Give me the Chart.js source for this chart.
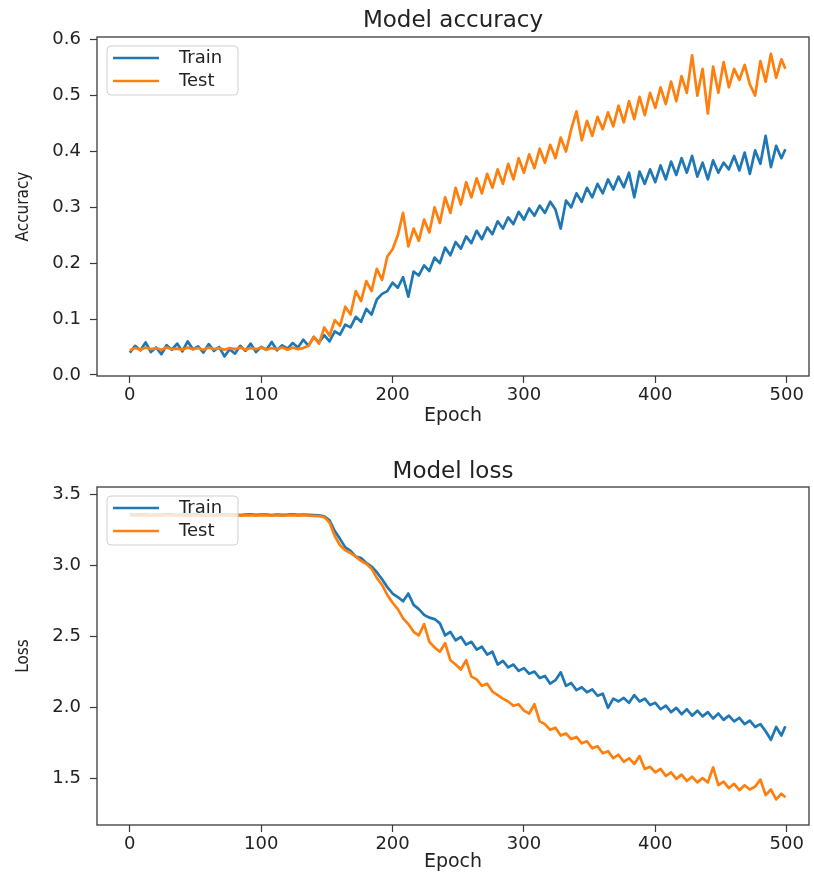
<!DOCTYPE html>
<html>
<head>
<meta charset="utf-8">
<title>Model accuracy / Model loss</title>
<script src="https://cdn.jsdelivr.net/npm/chart.js@4.4.1/dist/chart.umd.min.js"></script>
<style>
  body { margin: 0; background: #ffffff; }
  .plot { position: absolute; left: 0; }
</style>
</head>
<body>
<canvas id="accChart" class="plot" width="814" height="440" style="top:0px"></canvas>
<canvas id="lossChart" class="plot" width="814" height="437" style="top:440px"></canvas>
<script>
const epochs = [
  0, 4, 8, 12, 16, 20, 24, 28, 32, 36,
  40, 44, 48, 52, 56, 60, 64, 68, 72, 76,
  80, 84, 88, 92, 96, 100, 104, 108, 112, 116,
  120, 124, 128, 132, 136, 140, 144, 148, 152, 156,
  160, 164, 168, 172, 176, 180, 184, 188, 192, 196,
  200, 204, 208, 212, 216, 220, 224, 228, 232, 236,
  240, 244, 248, 252, 256, 260, 264, 268, 272, 276,
  280, 284, 288, 292, 296, 300, 304, 308, 312, 316,
  320, 324, 328, 332, 336, 340, 344, 348, 352, 356,
  360, 364, 368, 372, 376, 380, 384, 388, 392, 396,
  400, 404, 408, 412, 416, 420, 424, 428, 432, 436,
  440, 444, 448, 452, 456, 460, 464, 468, 472, 476,
  480, 484, 488, 492, 496, 499
];

const accTrain = [
  0.040, 0.052, 0.044, 0.058, 0.041, 0.049, 0.037, 0.053, 0.045, 0.056,
  0.042, 0.060, 0.046, 0.051, 0.040, 0.055, 0.043, 0.050, 0.033, 0.046,
  0.038, 0.052, 0.043, 0.056, 0.041, 0.050, 0.045, 0.059, 0.044, 0.053,
  0.047, 0.057, 0.049, 0.063, 0.052, 0.068, 0.058, 0.071, 0.060, 0.078,
  0.072, 0.090, 0.085, 0.104, 0.095, 0.118, 0.108, 0.135, 0.145, 0.150,
  0.165, 0.156, 0.175, 0.140, 0.185, 0.178, 0.196, 0.186, 0.210, 0.200,
  0.228, 0.214, 0.238, 0.226, 0.248, 0.236, 0.258, 0.243, 0.264, 0.252,
  0.275, 0.262, 0.282, 0.270, 0.292, 0.278, 0.298, 0.285, 0.303, 0.290,
  0.310, 0.296, 0.262, 0.312, 0.300, 0.325, 0.310, 0.335, 0.318, 0.342,
  0.325, 0.350, 0.332, 0.355, 0.336, 0.362, 0.318, 0.364, 0.342, 0.368,
  0.345, 0.375, 0.350, 0.382, 0.358, 0.388, 0.362, 0.392, 0.355, 0.380,
  0.350, 0.384, 0.362, 0.380, 0.368, 0.392, 0.366, 0.398, 0.360, 0.402,
  0.378, 0.428, 0.372, 0.410, 0.388, 0.404
];

const accTest = [
  0.044, 0.048, 0.045, 0.049, 0.046, 0.048, 0.045, 0.049, 0.046, 0.047,
  0.045, 0.049, 0.046, 0.048, 0.045, 0.049, 0.046, 0.048, 0.045, 0.048,
  0.046, 0.049, 0.045, 0.048, 0.046, 0.049, 0.045, 0.048, 0.046, 0.049,
  0.045, 0.049, 0.046, 0.048, 0.052, 0.068, 0.056, 0.085, 0.070, 0.098,
  0.088, 0.122, 0.108, 0.150, 0.132, 0.168, 0.150, 0.190, 0.170, 0.212,
  0.225, 0.250, 0.290, 0.230, 0.262, 0.240, 0.278, 0.255, 0.300, 0.272,
  0.318, 0.290, 0.335, 0.305, 0.345, 0.318, 0.352, 0.325, 0.360, 0.335,
  0.368, 0.342, 0.378, 0.350, 0.388, 0.362, 0.395, 0.370, 0.405, 0.380,
  0.412, 0.388, 0.425, 0.400, 0.440, 0.472, 0.420, 0.455, 0.428, 0.462,
  0.440, 0.470, 0.445, 0.482, 0.452, 0.490, 0.458, 0.498, 0.465, 0.505,
  0.478, 0.515, 0.485, 0.525, 0.490, 0.535, 0.505, 0.572, 0.500, 0.548,
  0.468, 0.552, 0.505, 0.560, 0.515, 0.548, 0.528, 0.555, 0.520, 0.500,
  0.562, 0.525, 0.575, 0.532, 0.565, 0.548
];

const lossTrain = [
  3.358, 3.354, 3.357, 3.355, 3.353, 3.356, 3.354, 3.357, 3.355, 3.353,
  3.356, 3.354, 3.357, 3.355, 3.354, 3.356, 3.353, 3.355, 3.357, 3.354,
  3.356, 3.353, 3.355, 3.357, 3.354, 3.356, 3.355, 3.353, 3.356, 3.354,
  3.355, 3.357, 3.354, 3.356, 3.354, 3.352, 3.350, 3.344, 3.315, 3.240,
  3.185, 3.125, 3.100, 3.060, 3.050, 3.015, 2.990, 2.950, 2.900, 2.845,
  2.800, 2.775, 2.745, 2.800, 2.720, 2.690, 2.650, 2.630, 2.620, 2.590,
  2.505, 2.530, 2.470, 2.495, 2.440, 2.460, 2.405, 2.425, 2.370, 2.390,
  2.300, 2.325, 2.280, 2.300, 2.255, 2.275, 2.235, 2.250, 2.205, 2.220,
  2.165, 2.190, 2.245, 2.150, 2.170, 2.120, 2.140, 2.105, 2.125, 2.080,
  2.095, 1.995, 2.060, 2.040, 2.065, 2.030, 2.085, 2.040, 2.060, 2.015,
  2.030, 1.985, 2.010, 1.965, 1.995, 1.950, 1.985, 1.940, 1.975, 1.935,
  1.965, 1.920, 1.955, 1.910, 1.940, 1.900, 1.925, 1.880, 1.905, 1.860,
  1.880, 1.830, 1.770, 1.860, 1.800, 1.865
];

const lossTest = [
  3.351, 3.349, 3.352, 3.350, 3.348, 3.351, 3.349, 3.352, 3.350, 3.348,
  3.351, 3.349, 3.352, 3.350, 3.349, 3.351, 3.348, 3.350, 3.352, 3.349,
  3.351, 3.348, 3.350, 3.352, 3.349, 3.351, 3.350, 3.348, 3.351, 3.349,
  3.350, 3.352, 3.349, 3.351, 3.349, 3.347, 3.345, 3.338, 3.300, 3.205,
  3.140, 3.105, 3.085, 3.060, 3.030, 3.010, 2.975, 2.910, 2.860, 2.790,
  2.735, 2.690, 2.625, 2.585, 2.530, 2.505, 2.585, 2.460, 2.420, 2.390,
  2.450, 2.330, 2.300, 2.265, 2.330, 2.215, 2.195, 2.150, 2.165, 2.110,
  2.085, 2.060, 2.040, 2.010, 2.020, 1.975, 1.955, 2.020, 1.900, 1.880,
  1.840, 1.855, 1.800, 1.815, 1.775, 1.790, 1.745, 1.760, 1.710, 1.725,
  1.675, 1.690, 1.640, 1.665, 1.615, 1.640, 1.600, 1.655, 1.565, 1.580,
  1.540, 1.565, 1.515, 1.540, 1.495, 1.525, 1.480, 1.510, 1.470, 1.500,
  1.470, 1.575, 1.450, 1.475, 1.430, 1.460, 1.415, 1.450, 1.420, 1.440,
  1.490, 1.380, 1.420, 1.350, 1.390, 1.365
];

// tick labels
const epochTicks = [0, 100, 200, 300, 400, 500];
const accTicks = [0.0, 0.1, 0.2, 0.3, 0.4, 0.5, 0.6];
const lossTicks = [1.5, 2.0, 2.5, 3.0, 3.5];

const trainColor = '#1f77b4';
const testColor = '#ff7f0e';
const spineColor = '#3a3a3a';
const textColor = '#222222';
const fontFamily = '"DejaVu Sans", sans-serif';
const narrowFamily = '"DejaVu Sans Condensed", "Liberation Sans Narrow", "DejaVu Sans", sans-serif';

function toPoints(values) {
    return epochs.map(function (e, i) { return { x: e, y: values[i] }; });
}

// axes frame + matplotlib-like legend in the upper left corner
const framePlugin = {
    id: 'frame',
    afterDatasetsDraw(chart) {
        const ctx = chart.ctx;
        const a = chart.chartArea;
        ctx.save();
        ctx.strokeStyle = spineColor;
        ctx.lineWidth = 1.3;
        ctx.strokeRect(a.left, a.top, a.right - a.left, a.bottom - a.top);

        const bx = a.left + 10;
        const by = a.top + 9;
        ctx.beginPath();
        ctx.roundRect(bx, by, 131, 49, 4);
        ctx.fillStyle = 'rgba(255,255,255,0.8)';
        ctx.fill();
        ctx.strokeStyle = '#d0d0d0';
        ctx.lineWidth = 1;
        ctx.stroke();

        ctx.font = '18px ' + fontFamily;
        ctx.textBaseline = 'middle';
        ctx.textAlign = 'left';
        chart.data.datasets.forEach(function (ds, i) {
            const ly = by + 12 + i * 23;
            ctx.beginPath();
            ctx.moveTo(bx + 6, ly);
            ctx.lineTo(bx + 52, ly);
            ctx.strokeStyle = ds.borderColor;
            ctx.lineWidth = 2.5;
            ctx.stroke();
            ctx.fillStyle = textColor;
            ctx.fillText(ds.label, bx + 72, ly);
        });
        ctx.restore();
    }
};

function makeConfig(opts) {
    return {
        type: 'line',
        data: {
            datasets: [
                { label: 'Train', data: toPoints(opts.train), borderColor: trainColor, order: 1 },
                { label: 'Test', data: toPoints(opts.test), borderColor: testColor, order: 0 }
            ]
        },
        options: {
            responsive: false,
            animation: false,
            devicePixelRatio: 1,
            layout: { padding: { left: 0, right: 5, top: 0, bottom: 0 } },
            elements: {
                point: { radius: 0 },
                line: { borderWidth: 2.7, tension: 0, borderJoinStyle: 'round', fill: false }
            },
            plugins: {
                legend: { display: false },
                tooltip: { enabled: false },
                title: {
                    display: true,
                    text: opts.title,
                    fullSize: false,
                    color: textColor,
                    font: { family: fontFamily, size: 23, weight: 'normal', lineHeight: 1 },
                    padding: opts.titlePad
                }
            },
            scales: {
                x: {
                    type: 'linear',
                    min: -25,
                    max: 517,
                    afterBuildTicks: function (s) { s.ticks = epochTicks.map(function (v) { return { value: v }; }); },
                    afterFit: function (s) { s.height = opts.xHeight; },
                    grid: { display: true, drawOnChartArea: false, drawTicks: true, tickLength: 7, tickWidth: 1.2, tickColor: spineColor },
                    border: { display: false },
                    ticks: {
                        color: textColor,
                        font: { family: fontFamily, size: 18, lineHeight: 1 },
                        padding: 3,
                        maxRotation: 0,
                        autoSkip: false,
                        callback: function (v) { return String(v); }
                    },
                    title: {
                        display: true,
                        text: 'Epoch',
                        color: textColor,
                        font: { family: fontFamily, size: 19 },
                        padding: { top: 0, bottom: opts.xTitleBottom }
                    }
                },
                y: {
                    min: opts.yMin,
                    max: opts.yMax,
                    afterBuildTicks: function (s) { s.ticks = opts.yTicks.map(function (v) { return { value: v }; }); },
                    afterFit: function (s) { s.width = 97; },
                    grid: { display: true, drawOnChartArea: false, drawTicks: true, tickLength: 7, tickWidth: 1.2, tickColor: spineColor },
                    border: { display: false },
                    ticks: {
                        color: textColor,
                        font: { family: fontFamily, size: 18, lineHeight: 1 },
                        padding: 9,
                        autoSkip: false,
                        callback: function (v) { return v.toFixed(1); }
                    },
                    title: {
                        display: true,
                        text: opts.yLabel,
                        color: textColor,
                        font: { family: narrowFamily, size: 17 },
                        padding: { top: 13, bottom: 0 }
                    }
                }
            }
        },
        plugins: [framePlugin]
    };
}

var accChart = new Chart(document.getElementById('accChart'), makeConfig({
    title: 'Model accuracy',
    yLabel: 'Accuracy',
    train: accTrain,
    test: accTest,
    yMin: -0.002,
    yMax: 0.605,
    yTicks: accTicks,
    titlePad: { top: 9.5, bottom: 4.5 },
    xHeight: 64,
    xTitleBottom: 12.6
}));

var lossChart = new Chart(document.getElementById('lossChart'), makeConfig({
    title: 'Model loss',
    yLabel: 'Loss',
    train: lossTrain,
    test: lossTest,
    yMin: 1.17,
    yMax: 3.55,
    yTicks: lossTicks,
    titlePad: { top: 21, bottom: 3 },
    xHeight: 52,
    xTitleBottom: 3.6
}));
</script>
</body>
</html>
